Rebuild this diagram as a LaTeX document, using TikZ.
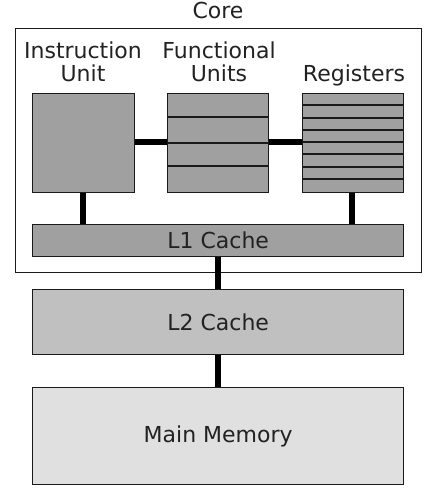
\documentclass[tikz,border=0pt]{standalone}
\usepackage{fontspec}
\setmainfont{DejaVu Sans}
\definecolor{boxdark}{HTML}{A0A0A0}
\definecolor{boxmid}{HTML}{C0C0C0}
\definecolor{boxlight}{HTML}{E0E0E0}
\definecolor{edge}{HTML}{1A1A1A}
\definecolor{txt}{HTML}{222222}
\begin{document}
\begin{tikzpicture}[x=1pt,y=-1pt,
  unitbox/.style={draw=edge,line width=1.4pt,fill=boxdark,inner sep=0pt,anchor=north west},
  bus/.style={line width=5.5pt,draw=black},
  lbl/.style={text=txt,font=\fontsize{22}{24}\selectfont,inner sep=0pt},
  divline/.style={draw=edge,line width=1.5pt}]
\useasboundingbox (0,0) rectangle (432,494);
% core frame
\node[draw=edge,line width=1.3pt,minimum width=406pt,minimum height=244pt,inner sep=0pt,anchor=north west] (core) at (15,28) {};
\node[lbl,anchor=base] (corelbl) at (218,19) {Core};
% units
\node[unitbox,minimum width=102pt,minimum height=99pt] (iu) at (32,93) {};
\node[unitbox,minimum width=101pt,minimum height=99pt] (fu) at (167,93) {};
\node[unitbox,minimum width=101pt,minimum height=99pt] (reg) at (302,93) {};
\node[lbl,anchor=base,align=center] (iulbl) at (83,59) {Instruction};
\node[lbl,anchor=base] (iulbl2) at (83,82) {Unit};
\node[lbl,anchor=base] (fulbl) at (219,59) {Functional};
\node[lbl,anchor=base] (fulbl2) at (219,82) {Units};
\node[lbl,anchor=base] (reglbl) at (354,82) {Registers};
% functional unit dividers
\foreach \yy in {117,143,166} \draw[divline] (fu.west |- 0,\yy) -- (fu.east |- 0,\yy);
% register dividers
\foreach \yy in {105,118,130,142,154,167,179} \draw[divline] (reg.west |- 0,\yy) -- (reg.east |- 0,\yy);
% L1
\node[unitbox,minimum width=371pt,minimum height=32pt] (l1) at (32,224) {};
\node[lbl] (l1lbl) at (l1.center) {L1 Cache};
% L2
\node[unitbox,fill=boxmid,minimum width=371pt,minimum height=65pt] (l2) at (32,289) {};
\node[lbl] (l2lbl) at (l2.center) {L2 Cache};
% Main memory
\node[unitbox,fill=boxlight,minimum width=371pt,minimum height=97pt] (mm) at (32,387) {};
\node[lbl] (mmlbl) at (mm.center) {Main Memory};
% buses
\draw[bus] (iu.east |- 0,142) -- (fu.west |- 0,142);
\draw[bus] (fu.east |- 0,142) -- (reg.west |- 0,142);
\draw[bus] (iu.south -| 83,0) -- (l1.north -| 83,0);
\draw[bus] (reg.south -| 352,0) -- (l1.north -| 352,0);
\draw[bus] (l1.south -| 218,0) -- (l2.north -| 218,0);
\draw[bus] (l2.south -| 218,0) -- (mm.north -| 218,0);
\end{tikzpicture}
\end{document}
